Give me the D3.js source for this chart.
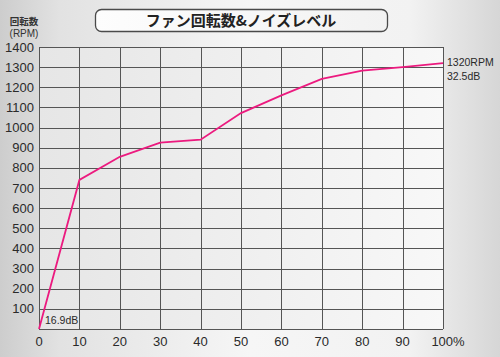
<!DOCTYPE html>
<html>
<head>
<meta charset="utf-8">
<script src="https://cdn.jsdelivr.net/npm/d3@7"></script>
<style>
  body { margin: 0; }
  svg { display: block; }
  text { font-family: "Liberation Sans", Arial, sans-serif; fill: #2a2a2a; }
</style>
</head>
<body>
<svg id="chart"></svg>
<script>
// fan duty (%) vs rotation speed (RPM)
const duty = [0, 10, 20, 30, 40, 50, 60, 70, 80, 90, 100];
const rpm = [0, 740, 855, 925, 940, 1072, 1160, 1242, 1283, 1300, 1320];
const xTicks = [0, 10, 20, 30, 40, 50, 60, 70, 80, 90, 100];
const yTicks = [100, 200, 300, 400, 500, 600, 700, 800, 900, 1000, 1100, 1200, 1300, 1400];

const title = "ファン回転数&ノイズレベル";
const yTitle = ["回転数", "(RPM)"];
const endNote = ["1320RPM", "32.5dB"];
const startNote = "16.9dB";

const W = 500, H = 357;
const margin = { top: 47, right: 57, bottom: 28, left: 39 };
const w = W - margin.left - margin.right;
const h = H - margin.top - margin.bottom;

const svg = d3.select("#chart").attr("width", W).attr("height", H);
const defs = svg.append("defs");

const bgGrad = defs.append("linearGradient").attr("id", "bg");
[[0, "#cdcdcd"], [0.12, "#e2e2e2"], [0.5, "#f6f6f6"], [0.82, "#f2f2f2"], [1, "#d6d6d6"]]
    .forEach(s => bgGrad.append("stop").attr("offset", s[0]).attr("stop-color", s[1]));

const plotGrad = defs.append("linearGradient").attr("id", "plotbg");
[[0, "#e6e6e6"], [1, "#f8f8f8"]]
    .forEach(s => plotGrad.append("stop").attr("offset", s[0]).attr("stop-color", s[1]));

const titleGrad = defs.append("linearGradient").attr("id", "titlebg");
[[0, "#fdfdfd"], [1, "#f2f2f2"]]
    .forEach(s => titleGrad.append("stop").attr("offset", s[0]).attr("stop-color", s[1]));

svg.append("rect").attr("width", W).attr("height", H).attr("fill", "url(#bg)");

// title box
svg.append("rect")
    .attr("x", 95.5).attr("y", 9.5).attr("width", 292).attr("height", 22)
    .attr("rx", 6)
    .attr("fill", "url(#titlebg)")
    .attr("stroke", "#4a4a4a").attr("stroke-width", 1.3);

svg.append("text")
    .attr("x", 241).attr("y", 26)
    .attr("text-anchor", "middle")
    .style("font-family", "'Noto Sans CJK JP', sans-serif")
    .style("font-weight", "bold")
    .style("font-size", "15px")
    .style("fill", "#222")
    .text(title);

const x = d3.scaleLinear().domain([0, 100]).range([0, w]);
const y = d3.scaleLinear().domain([0, 1400]).range([h, 0]);

const g = svg.append("g").attr("transform", "translate(" + margin.left + "," + margin.top + ")");

g.append("rect").attr("width", w).attr("height", h).attr("fill", "url(#plotbg)");

// grid
g.append("g")
    .selectAll("line")
    .data(yTicks)
    .join("line")
    .attr("x1", 0).attr("x2", w)
    .attr("y1", d => Math.round(y(d)) + 0.5).attr("y2", d => Math.round(y(d)) + 0.5)
    .attr("stroke", "#555").attr("stroke-width", 1);

g.append("g")
    .selectAll("line")
    .data(xTicks)
    .join("line")
    .attr("x1", d => Math.round(x(d)) + 0.5).attr("x2", d => Math.round(x(d)) + 0.5)
    .attr("y1", 0).attr("y2", h)
    .attr("stroke", "#555").attr("stroke-width", 1);

g.append("line")
    .attr("x1", 0).attr("x2", w).attr("y1", h + 0.5).attr("y2", h + 0.5)
    .attr("stroke", "#555");

// axis labels
g.append("g")
    .selectAll("text")
    .data(yTicks)
    .join("text")
    .attr("x", -5)
    .attr("y", d => y(d) + 4.5)
    .attr("text-anchor", "end")
    .style("font-size", "13px")
    .text(d => d);

g.append("g")
    .selectAll("text")
    .data(xTicks)
    .join("text")
    .attr("x", d => x(d) + (d === 100 ? 5 : 0))
    .attr("y", h + 17)
    .attr("text-anchor", "middle")
    .style("font-size", "13px")
    .text(d => d === 100 ? "100%" : d);

svg.append("text")
    .attr("x", 24).attr("y", 25)
    .attr("text-anchor", "middle")
    .style("font-family", "'Noto Sans CJK JP', sans-serif")
    .style("font-weight", "bold")
    .style("font-size", "9.5px")
    .style("fill", "#333")
    .text(yTitle[0]);

svg.append("text")
    .attr("x", 24).attr("y", 37)
    .attr("text-anchor", "middle")
    .style("font-size", "10px")
    .style("fill", "#333")
    .text(yTitle[1]);

// the curve
const line = d3.line()
    .x((d, i) => x(duty[i]))
    .y(d => y(d));

g.append("path")
    .datum(rpm)
    .attr("d", line)
    .attr("fill", "none")
    .attr("stroke", "#ec1a7f")
    .attr("stroke-width", 1.8);

// notes
g.append("g")
    .selectAll("text")
    .data(endNote)
    .join("text")
    .attr("x", w + 4)
    .attr("y", (d, i) => y(rpm[rpm.length - 1]) + 3 + i * 14)
    .style("font-size", "10.5px")
    .text(d => d);

g.append("text")
    .attr("x", x(0) + 6)
    .attr("y", h - 5)
    .style("font-size", "10.5px")
    .text(startNote);
</script>
</body>
</html>
